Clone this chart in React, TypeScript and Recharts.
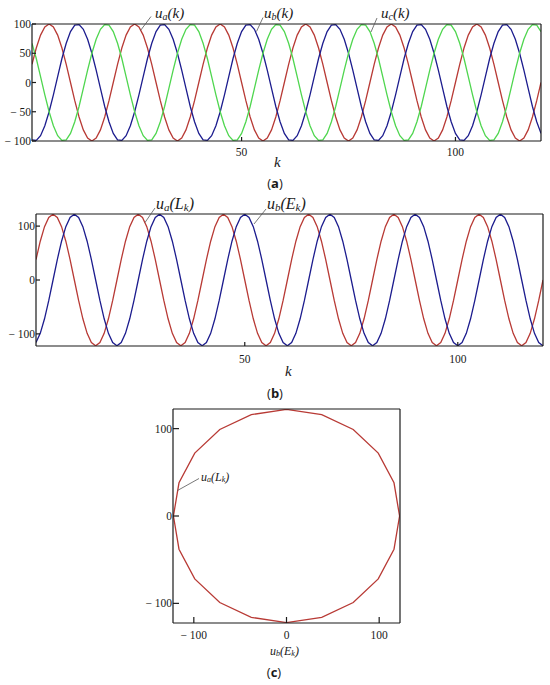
import { LineChart, Line, XAxis, YAxis } from "recharts";

// sampled phase voltages, k = 1..120
const UA = [
  31, 59, 81, 95, 100, 95, 81, 59, 31, 0, -31, -59, -81, -95, -100, -95, -81, -59, -31, 0,
  31, 59, 81, 95, 100, 95, 81, 59, 31, 0, -31, -59, -81, -95, -100, -95, -81, -59, -31, 0,
  31, 59, 81, 95, 100, 95, 81, 59, 31, 0, -31, -59, -81, -95, -100, -95, -81, -59, -31, 0,
  31, 59, 81, 95, 100, 95, 81, 59, 31, 0, -31, -59, -81, -95, -100, -95, -81, -59, -31, 0,
  31, 59, 81, 95, 100, 95, 81, 59, 31, 0, -31, -59, -81, -95, -100, -95, -81, -59, -31, 0,
  31, 59, 81, 95, 100, 95, 81, 59, 31, 0, -31, -59, -81, -95, -100, -95, -81, -59, -31, 0
];
const UB = [
  -98, -99, -91, -74, -50, -21, 10, 41, 67, 87, 98, 99, 91, 74, 50, 21, -10, -41, -67, -87,
  -98, -99, -91, -74, -50, -21, 10, 41, 67, 87, 98, 99, 91, 74, 50, 21, -10, -41, -67, -87,
  -98, -99, -91, -74, -50, -21, 10, 41, 67, 87, 98, 99, 91, 74, 50, 21, -10, -41, -67, -87,
  -98, -99, -91, -74, -50, -21, 10, 41, 67, 87, 98, 99, 91, 74, 50, 21, -10, -41, -67, -87,
  -98, -99, -91, -74, -50, -21, 10, 41, 67, 87, 98, 99, 91, 74, 50, 21, -10, -41, -67, -87,
  -98, -99, -91, -74, -50, -21, 10, 41, 67, 87, 98, 99, 91, 74, 50, 21, -10, -41, -67, -87
];
const UC = [
  67, 41, 10, -21, -50, -74, -91, -99, -98, -87, -67, -41, -10, 21, 50, 74, 91, 99, 98, 87,
  67, 41, 10, -21, -50, -74, -91, -99, -98, -87, -67, -41, -10, 21, 50, 74, 91, 99, 98, 87,
  67, 41, 10, -21, -50, -74, -91, -99, -98, -87, -67, -41, -10, 21, 50, 74, 91, 99, 98, 87,
  67, 41, 10, -21, -50, -74, -91, -99, -98, -87, -67, -41, -10, 21, 50, 74, 91, 99, 98, 87,
  67, 41, 10, -21, -50, -74, -91, -99, -98, -87, -67, -41, -10, 21, 50, 74, 91, 99, 98, 87,
  67, 41, 10, -21, -50, -74, -91, -99, -98, -87, -67, -41, -10, 21, 50, 74, 91, 99, 98, 87
];
// transformed components ua(Lk), ub(Ek)
const UL = [
  38, 72, 99, 116, 122, 116, 99, 72, 38, 0, -38, -72, -99, -116, -122, -116, -99, -72, -38, 0,
  38, 72, 99, 116, 122, 116, 99, 72, 38, 0, -38, -72, -99, -116, -122, -116, -99, -72, -38, 0,
  38, 72, 99, 116, 122, 116, 99, 72, 38, 0, -38, -72, -99, -116, -122, -116, -99, -72, -38, 0,
  38, 72, 99, 116, 122, 116, 99, 72, 38, 0, -38, -72, -99, -116, -122, -116, -99, -72, -38, 0,
  38, 72, 99, 116, 122, 116, 99, 72, 38, 0, -38, -72, -99, -116, -122, -116, -99, -72, -38, 0,
  38, 72, 99, 116, 122, 116, 99, 72, 38, 0, -38, -72, -99, -116, -122, -116, -99, -72, -38, 0
];
const UE = [
  -116, -99, -72, -38, 0, 38, 72, 99, 116, 122, 116, 99, 72, 38, 0, -38, -72, -99, -116, -122,
  -116, -99, -72, -38, 0, 38, 72, 99, 116, 122, 116, 99, 72, 38, 0, -38, -72, -99, -116, -122,
  -116, -99, -72, -38, 0, 38, 72, 99, 116, 122, 116, 99, 72, 38, 0, -38, -72, -99, -116, -122,
  -116, -99, -72, -38, 0, 38, 72, 99, 116, 122, 116, 99, 72, 38, 0, -38, -72, -99, -116, -122,
  -116, -99, -72, -38, 0, 38, 72, 99, 116, 122, 116, 99, 72, 38, 0, -38, -72, -99, -116, -122,
  -116, -99, -72, -38, 0, 38, 72, 99, 116, 122, 116, 99, 72, 38, 0, -38, -72, -99, -116, -122
];

const TICKS_A = [-100, -50, 0, 50, 100];
const TICKS_B = [-100, 0, 100];
const TICKS_K = [50, 100];
const AMP = 122.47;

const RED = "#b83a35";
const BLUE = "#1c1c8e";
const GREEN = "#4fd64f";
const INK = "#1a1a1a";

const dataA = UA.map((v, i) => ({ k: i + 1, ua: v, ub: UB[i], uc: UC[i] }));
const dataB = UL.map((v, i) => ({ k: i + 1, ul: v, ue: UE[i] }));
const dataC = UL.map((v, i) => ({ x: UE[i], y: v }));

// non-breaking space so the tick text is not wrapped
const fmt = (v: number) => (v < 0 ? `\u2212\u00a0${Math.abs(v)}` : String(v));
const tickFont = { fill: INK, fontSize: 11.5, fontFamily: "Liberation Serif" };
const axisStroke = { stroke: INK, strokeWidth: 1.2 };

function Frame(props: {
  xKey: string;
  xDomain: number[];
  xTicks: number[];
  yDomain: number[];
  yTicks: number[];
  yWidth: number;
  xMargin: number;
  tick?: number;
}) {
  const t = props.tick ?? 4;
  return [
    <XAxis
      key="xb"
      xAxisId="b"
      dataKey={props.xKey}
      type="number"
      domain={props.xDomain}
      ticks={props.xTicks}
      allowDataOverflow
      height={30}
      tickSize={-t}
      tickMargin={props.xMargin + t}
      tickFormatter={fmt}
      tick={tickFont}
      axisLine={axisStroke}
      tickLine={axisStroke}
    />,
    <XAxis
      key="xt"
      xAxisId="t"
      orientation="top"
      dataKey={props.xKey}
      type="number"
      domain={props.xDomain}
      ticks={props.xTicks}
      allowDataOverflow
      height={1}
      tickSize={-t}
      tick={false}
      axisLine={axisStroke}
      tickLine={axisStroke}
    />,
    <YAxis
      key="yl"
      yAxisId="l"
      type="number"
      domain={props.yDomain}
      ticks={props.yTicks}
      allowDataOverflow
      width={props.yWidth}
      tickSize={-t}
      tickMargin={t + 1}
      tickFormatter={fmt}
      tick={tickFont}
      axisLine={axisStroke}
      tickLine={axisStroke}
    />,
    <YAxis
      key="yr"
      yAxisId="r"
      orientation="right"
      type="number"
      domain={props.yDomain}
      ticks={props.yTicks}
      allowDataOverflow
      width={1}
      tickSize={-t}
      tick={false}
      axisLine={axisStroke}
      tickLine={axisStroke}
    />
  ];
}

type Seg = { t: string; small?: boolean };

function Label({ x, y, size, parts }: { x: number; y: number; size: number; parts: Seg[] }) {
  const sm = Math.round(size * 0.68);
  const drop = size * 0.12;
  let low = false;
  return (
    <text x={x} y={y} fontFamily="Liberation Serif" fontStyle="italic" fontSize={size} fill={INK}>
      {parts.map((p, i) => {
        let dy = 0;
        if (p.small && !low) { dy = drop; low = true; }
        else if (!p.small && low) { dy = -drop; low = false; }
        return (
          <tspan key={i} fontSize={p.small ? sm : size} dy={dy}>
            {p.t}
          </tspan>
        );
      })}
    </text>
  );
}

const lead = { stroke: "#555", strokeWidth: 0.8 };

function Caption({ x, y, letter }: { x: number; y: number; letter: string }) {
  return (
    <text x={x} y={y} textAnchor="middle" fontFamily="Open Sans" fontSize={13} fill={INK}>
      (<tspan fontWeight="bold">{letter}</tspan>)
    </text>
  );
}

export default function App() {
  return (
    <div style={{ position: "absolute", left: 0, top: 0, width: 550, height: 685, background: "#fff" }}>
      <div style={{ position: "absolute", left: 0, top: 0 }}>
        <LineChart width={550} height={200} data={dataA} margin={{ top: 23, right: 8, bottom: 29, left: 0 }}>
          {Frame({ xKey: "k", xDomain: [1, 120], xTicks: TICKS_K, yDomain: [-100, 100], yTicks: TICKS_A, yWidth: 32, xMargin: 7 })}
          <Line xAxisId="b" yAxisId="l" dataKey="ua" stroke={RED} strokeWidth={1.3} dot={false} isAnimationActive={false} />
          <Line xAxisId="b" yAxisId="l" dataKey="ub" stroke={BLUE} strokeWidth={1.3} dot={false} isAnimationActive={false} />
          <Line xAxisId="b" yAxisId="l" dataKey="uc" stroke={GREEN} strokeWidth={1.3} dot={false} isAnimationActive={false} />
        </LineChart>
      </div>
      <div style={{ position: "absolute", left: 0, top: 200 }}>
        <LineChart width={550} height={200} data={dataB} margin={{ top: 13, right: 6, bottom: 24, left: 0 }}>
          {Frame({ xKey: "k", xDomain: [1, 120], xTicks: TICKS_K, yDomain: [-AMP, AMP], yTicks: TICKS_B, yWidth: 36, xMargin: 9 })}
          <Line xAxisId="b" yAxisId="l" dataKey="ul" stroke={RED} strokeWidth={1.3} dot={false} isAnimationActive={false} />
          <Line xAxisId="b" yAxisId="l" dataKey="ue" stroke={BLUE} strokeWidth={1.3} dot={false} isAnimationActive={false} />
        </LineChart>
      </div>
      <div style={{ position: "absolute", left: 0, top: 400 }}>
        <LineChart width={550} height={285} data={dataC} margin={{ top: 8, right: 149, bottom: 32, left: 140 }}>
          {Frame({ xKey: "x", xDomain: [-AMP, AMP], xTicks: TICKS_B, yDomain: [-AMP, AMP], yTicks: TICKS_B, yWidth: 33, xMargin: 8, tick: 6 })}
          <Line xAxisId="b" yAxisId="l" dataKey="y" stroke={RED} strokeWidth={1.3} dot={false} isAnimationActive={false} />
        </LineChart>
      </div>
      <svg width={550} height={685} style={{ position: "absolute", left: 0, top: 0, pointerEvents: "none" }}>
        {/* panel (a) */}
        <line x1={140.5} y1={30.5} x2={151} y2={16.5} {...lead} />
        <Label x={155} y={18} size={15} parts={[{ t: "u" }, { t: "a", small: true }, { t: "(k)" }]} />
        <line x1={256.5} y1={31.5} x2={263} y2={17.5} {...lead} />
        <Label x={264} y={18} size={15} parts={[{ t: "u" }, { t: "b", small: true }, { t: "(k)" }]} />
        <line x1={371} y1={32} x2={377} y2={18} {...lead} />
        <Label x={381} y={18} size={15} parts={[{ t: "u" }, { t: "c", small: true }, { t: "(k)" }]} />
        <Label x={274} y={167} size={15} parts={[{ t: "k" }]} />
        <Caption x={275} y={188} letter="a" />
        {/* panel (b) */}
        <line x1={145} y1={222.5} x2={155} y2={208} {...lead} />
        <Label x={156} y={209} size={16} parts={[{ t: "u" }, { t: "a", small: true }, { t: "(L" }, { t: "k", small: true }, { t: ")" }]} />
        <line x1={254} y1={224} x2={266} y2={209} {...lead} />
        <Label x={267} y={209} size={16} parts={[{ t: "u" }, { t: "b", small: true }, { t: "(E" }, { t: "k", small: true }, { t: ")" }]} />
        <Label x={285} y={376} size={15} parts={[{ t: "k" }]} />
        <Caption x={275} y={398} letter="b" />
        {/* panel (c) */}
        <line x1={177.5} y1={490.5} x2={199} y2={478.5} {...lead} />
        <Label x={201} y={481} size={12} parts={[{ t: "u" }, { t: "a", small: true }, { t: "(L" }, { t: "k", small: true }, { t: ")" }]} />
        <Label x={270} y={655} size={12} parts={[{ t: "u" }, { t: "b", small: true }, { t: "(E" }, { t: "k", small: true }, { t: ")" }]} />
        <Caption x={274} y={677} letter="c" />
      </svg>
    </div>
  );
}
